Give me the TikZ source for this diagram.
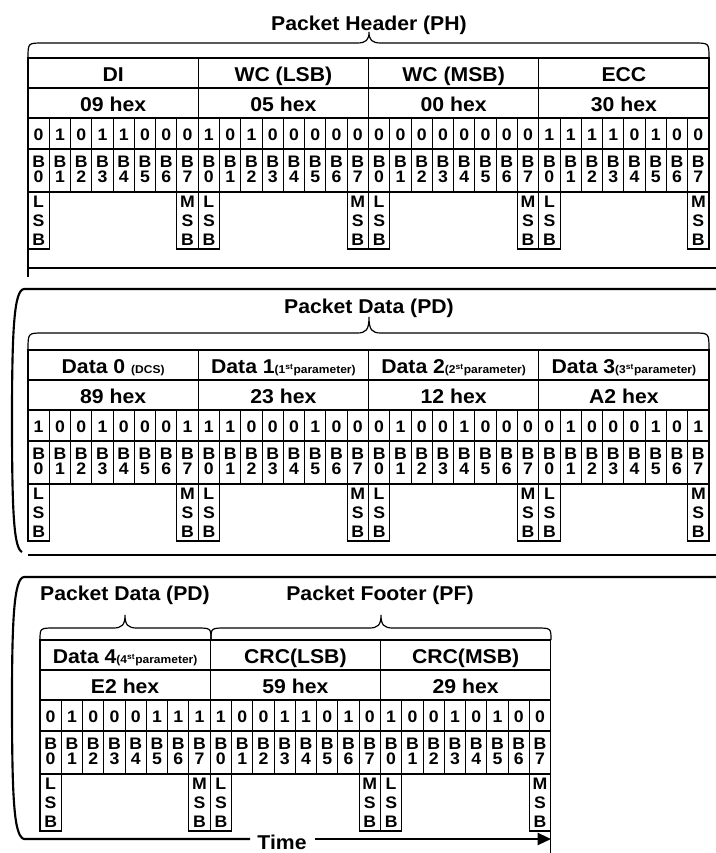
\documentclass[tikz,border=0pt]{standalone}
\usepackage{fontspec}
\setmainfont{Liberation Sans}[FakeStretch=1.06]
\usetikzlibrary{arrows.meta}

\newcommand{\bytew}{170.25}
\newcommand{\bitw}{21.28}
\newcommand{\paramtxt}[1]{{\fontsize{8.5}{10}\selectfont#1}}

\tikzset{
	cell/.style={line width=0.8pt},
	frame/.style={line width=1.6pt},
	brace/.style={line width=0.9pt},
	bigtxt/.style={font=\fontsize{15}{18}\selectfont\bfseries, inner sep=0pt, anchor=base},
	bittxt/.style={font=\fontsize{12.5}{14}\selectfont\bfseries, inner sep=0pt, anchor=base},
}

% one byte: name, x, y, label, hex, bits (LSB first)
\newcommand{\pktbyte}[6]{%
	\draw[cell] (#2,#3) rectangle ++(\bytew,30);
	\node[bigtxt] (#1-lbl) at ({#2+\bytew/2},#3+23) {#4};
	\draw[cell] (#2,#3+30) rectangle ++(\bytew,30);
	\node[bigtxt] (#1-hex) at ({#2+\bytew/2},#3+53) {#5};
	\foreach \v [count=\i from 0] in {#6} {
		\draw[cell] ({#2+\i*\bitw},#3+60) rectangle ++(\bitw,31);
		\draw[cell] ({#2+\i*\bitw},#3+91) rectangle ++(\bitw,43);
		\node[bittxt] (#1-v\i) at ({#2+(\i+0.5)*\bitw},#3+82) {\v};
		\node[bittxt] (#1-b\i) at ({#2+(\i+0.5)*\bitw},#3+109) {B};
		\node[bittxt] (#1-n\i) at ({#2+(\i+0.5)*\bitw},#3+124) {\i};
	}
	\draw[cell] (#2,#3+134) rectangle ++(\bitw,57);
	\draw[cell] ({#2+7*\bitw},#3+134) rectangle ++(\bitw,57);
	\foreach \c/\d [count=\k from 0] in {L/M,S/S,B/B} {
		\node[bittxt] (#1-l\k) at ({#2+0.5*\bitw},#3+149+19*\k) {\c};
		\node[bittxt] (#1-m\k) at ({#2+7.5*\bitw},#3+149+19*\k) {\d};
	}
}

% brace: x left, x right, x tip, y ends, y line, y tip
\newcommand{\hbrace}[6]{%
	\draw[brace] (#1,#4) .. controls (#1,#5) .. ({#1+15},#5) -- ({#3-12},#5)
		.. controls ({#3-3},#5) and (#3,{#5-3}) .. (#3,#6)
		.. controls (#3,{#5-3}) and ({#3+3},#5) .. ({#3+12},#5)
		-- ({#2-15},#5) .. controls (#2,#5) .. (#2,#4);
}

\begin{document}
\begin{tikzpicture}[x=0.75pt, y=-0.75pt]
	\useasboundingbox (0,0) rectangle (716,853);

	% packet header
	\node[bigtxt] (ph) at (369,30) {Packet Header (PH)};
	\hbrace{28}{709}{369}{58}{43}{32}
	\pktbyte{di}{28}{58}{DI}{09 hex}{0,1,0,1,1,0,0,0}
	\pktbyte{wcl}{198.25}{58}{WC (LSB)}{05 hex}{1,0,1,0,0,0,0,0}
	\pktbyte{wcm}{368.5}{58}{WC (MSB)}{00 hex}{0,0,0,0,0,0,0,0}
	\pktbyte{ecc}{538.75}{58}{ECC}{30 hex}{1,1,1,1,0,1,0,0}
	\draw[cell] (28,249) -- (28,277);
	\draw[frame] (28,268) -- (716,268);

	% packet data
	\draw[frame] (716,289) -- (24,289) .. controls (14,290) and (12,330) .. (12,420)
		.. controls (12,515) and (14,548) .. (22,552);
	\node[bigtxt] (pd) at (369,313) {Packet Data (PD)};
	\hbrace{28}{709}{369}{350}{333}{317}
	\pktbyte{d0}{28}{350}{Data 0 \paramtxt{(DCS)}}{89 hex}{1,0,0,1,0,0,0,1}
	\pktbyte{d1}{198.25}{350}{Data 1\paramtxt{(1\textsuperscript{st}parameter)}}{23 hex}{1,1,0,0,0,1,0,0}
	\pktbyte{d2}{368.5}{350}{Data 2\paramtxt{(2\textsuperscript{st}parameter)}}{12 hex}{0,1,0,0,1,0,0,0}
	\pktbyte{d3}{538.75}{350}{Data 3\paramtxt{(3\textsuperscript{st}parameter)}}{A2 hex}{0,1,0,0,0,1,0,1}
	\draw[frame] (28,555) -- (716,555);

	% data and footer
	\coordinate (tl) at (250,839);
	\coordinate (tr) at (315,839);
	\coordinate (tend) at (551,839);
	\draw[frame] (716,577) -- (24,577) .. controls (14,578) and (12,620) .. (12,700)
		.. controls (12,800) and (14,836) .. (24,839) -- (tl);
	\node[bigtxt] (pd2) at (125,600) {Packet Data (PD)};
	\node[bigtxt] (pf) at (380,600) {Packet Footer (PF)};
	\hbrace{40}{211}{125}{640}{628}{615}
	\hbrace{211}{551}{381}{640}{628}{615}
	\pktbyte{d4}{40}{640}{Data 4\paramtxt{(4\textsuperscript{st}parameter)}}{E2 hex}{0,1,0,0,0,1,1,1}
	\pktbyte{crcl}{210.25}{640}{CRC(LSB)}{59 hex}{1,0,0,1,1,0,1,0}
	\pktbyte{crcm}{380.5}{640}{CRC(MSB)}{29 hex}{1,0,0,1,0,1,0,0}
	\draw[cell] (550.75,831) -- (550.75,853);
	\node[bigtxt] (time) at (282,849) {Time};
	\draw[frame,-{Triangle[length=10pt,width=9pt]}] (tr) -- (tend);
\end{tikzpicture}
\end{document}
